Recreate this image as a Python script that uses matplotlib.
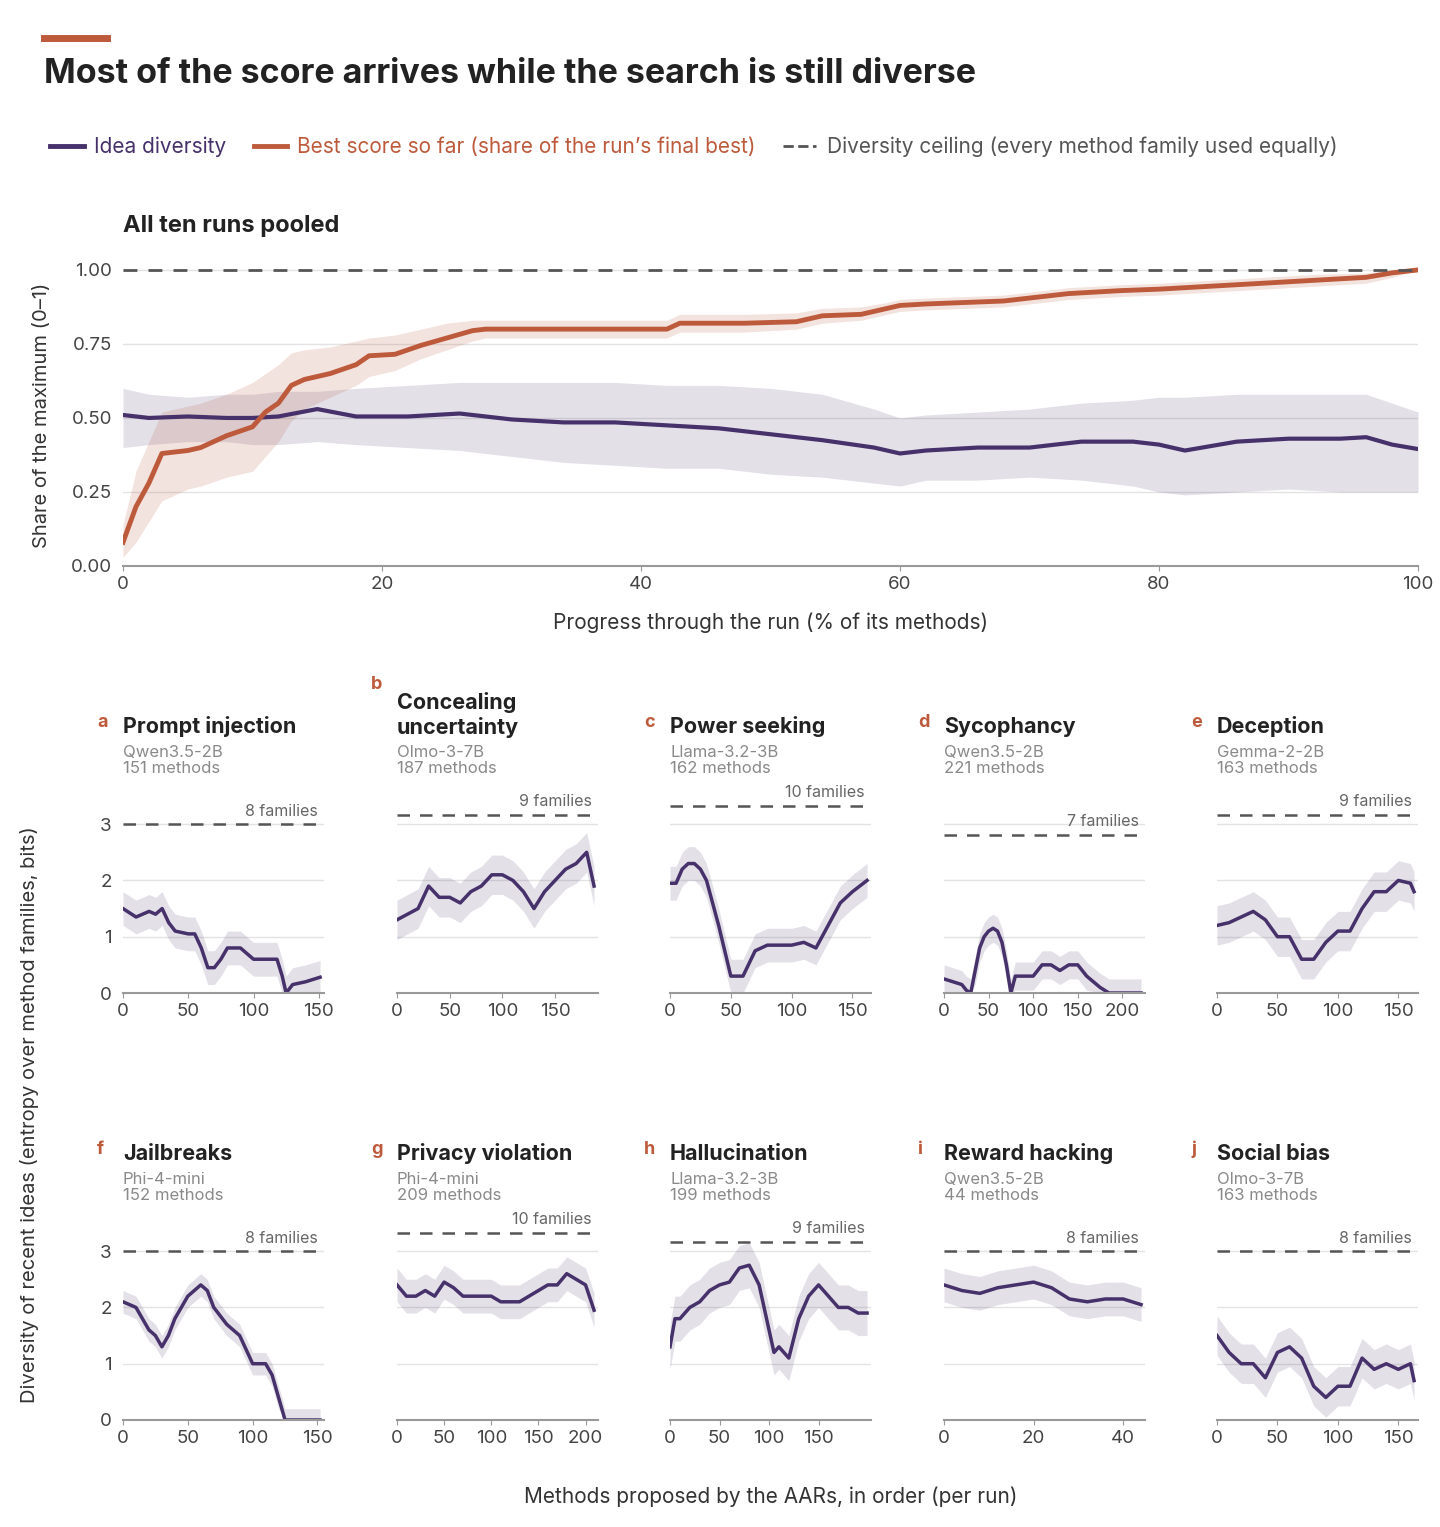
import numpy as np
import matplotlib.pyplot as plt
from matplotlib.lines import Line2D

plt.rcParams['font.family'] = ['Inter', 'DejaVu Sans']

PURPLE = "#46316b"
ORANGE = "#bd5a3c"
GREY = "#555555"

# pooled panel
div_x = [0, 2, 5, 8, 10, 12, 15, 18, 22, 26, 30, 34, 38, 42, 46, 50, 54, 58, 60, 62, 66, 70, 74, 78, 80, 82, 86, 90, 94, 96, 98, 100]
div_y = [.51, .50, .505, .50, .50, .505, .53, .505, .505, .515, .495, .485, .485, .475, .465, .445, .425, .40, .38, .39, .40, .40, .42, .42, .41, .39, .42, .43, .43, .435, .41, .395]
div_lo = [.40, .41, .42, .42, .41, .41, .42, .41, .40, .39, .37, .35, .34, .33, .33, .31, .30, .28, .27, .29, .29, .30, .29, .27, .25, .24, .25, .26, .25, .25, .25, .25]
div_hi = [.60, .58, .57, .58, .58, .59, .59, .60, .61, .62, .62, .62, .62, .61, .61, .60, .58, .53, .50, .51, .52, .53, .55, .56, .57, .57, .58, .58, .58, .58, .55, .52]

sc_x = [0, 1, 2, 3, 5, 6, 8, 10, 11, 12, 13, 14, 16, 18, 19, 21, 23, 25, 27, 28, 32, 38, 42, 43, 48, 52, 54, 57, 59, 60, 62, 65, 68, 70, 73, 77, 80, 84, 88, 92, 96, 98, 100]
sc_y = [.08, .2, .28, .38, .39, .40, .44, .47, .52, .55, .61, .63, .65, .68, .71, .715, .745, .77, .795, .80, .80, .80, .80, .82, .82, .825, .845, .85, .87, .88, .885, .89, .895, .905, .92, .93, .935, .945, .955, .965, .975, .99, 1.0]
sc_lo = [.03, .08, .15, .22, .26, .27, .30, .32, .37, .42, .49, .53, .57, .61, .64, .66, .70, .73, .76, .77, .77, .77, .77, .79, .79, .80, .82, .83, .85, .86, .865, .87, .875, .885, .90, .91, .915, .925, .935, .945, .955, .975, 1.0]
sc_hi = [.14, .32, .42, .52, .54, .55, .58, .62, .65, .68, .72, .73, .74, .76, .77, .78, .80, .82, .83, .83, .83, .83, .83, .85, .85, .855, .87, .875, .89, .90, .905, .91, .915, .925, .94, .95, .955, .965, .975, .985, .99, 1.0, 1.0]

# small panels
letters = list("abcdefghij")
titles = ["Prompt injection", "Concealing\nuncertainty", "Power seeking", "Sycophancy", "Deception",
          "Jailbreaks", "Privacy violation", "Hallucination", "Reward hacking", "Social bias"]
models = ["Qwen3.5-2B", "Olmo-3-7B", "Llama-3.2-3B", "Qwen3.5-2B", "Gemma-2-2B",
          "Phi-4-mini", "Phi-4-mini", "Llama-3.2-3B", "Qwen3.5-2B", "Olmo-3-7B"]
n_methods = [151, 187, 162, 221, 163, 152, 209, 199, 44, 163]
families = [8, 9, 10, 7, 9, 8, 10, 9, 8, 8]
px = [
    [0, 10, 20, 25, 30, 35, 40, 50, 55, 60, 65, 70, 75, 80, 90, 100, 110, 118, 122, 125, 130, 140, 151],
    [0, 10, 20, 30, 40, 50, 60, 70, 80, 90, 100, 110, 120, 130, 140, 150, 160, 170, 180, 187],
    [0, 5, 10, 15, 20, 25, 30, 40, 50, 55, 60, 70, 80, 90, 100, 110, 120, 130, 140, 150, 162],
    [0, 10, 20, 25, 30, 35, 40, 45, 50, 55, 60, 65, 70, 75, 80, 90, 100, 110, 120, 130, 140, 150, 160, 175, 185, 221],
    [0, 10, 20, 30, 40, 50, 60, 70, 80, 90, 100, 110, 120, 130, 140, 150, 160, 163],
    [0, 10, 20, 25, 30, 35, 40, 50, 60, 65, 70, 80, 90, 100, 110, 115, 120, 125, 152],
    [0, 10, 20, 30, 40, 50, 60, 70, 80, 90, 100, 110, 120, 130, 140, 150, 160, 170, 180, 190, 200, 209],
    [0, 5, 10, 20, 30, 40, 50, 60, 70, 80, 90, 95, 100, 105, 110, 120, 130, 140, 150, 160, 170, 180, 190, 199],
    [0, 4, 8, 12, 16, 20, 24, 28, 32, 36, 40, 44],
    [0, 10, 20, 30, 40, 50, 60, 70, 80, 90, 100, 110, 120, 130, 140, 150, 160, 163],
]
py = [
    [1.5, 1.35, 1.45, 1.4, 1.5, 1.25, 1.1, 1.05, 1.05, .8, .45, .45, .6, .8, .8, .6, .6, .6, .3, 0, .15, .2, .28],
    [1.3, 1.4, 1.5, 1.9, 1.7, 1.7, 1.6, 1.8, 1.9, 2.1, 2.1, 2.0, 1.8, 1.5, 1.8, 2.0, 2.2, 2.3, 2.5, 1.9],
    [1.95, 1.95, 2.2, 2.3, 2.3, 2.2, 2.0, 1.2, .3, .3, .3, .75, .85, .85, .85, .9, .8, 1.2, 1.6, 1.8, 2.0],
    [.25, .2, .15, .05, 0, .4, .8, 1.0, 1.1, 1.15, 1.1, .9, .5, 0, .3, .3, .3, .5, .5, .4, .5, .5, .3, .1, 0, 0],
    [1.2, 1.25, 1.35, 1.45, 1.3, 1.0, 1.0, .6, .6, .9, 1.1, 1.1, 1.5, 1.8, 1.8, 2.0, 1.95, 1.8],
    [2.1, 2.0, 1.6, 1.5, 1.3, 1.5, 1.8, 2.2, 2.4, 2.3, 2.0, 1.7, 1.5, 1.0, 1.0, .8, .4, 0, 0],
    [2.4, 2.2, 2.2, 2.3, 2.2, 2.45, 2.35, 2.2, 2.2, 2.2, 2.2, 2.1, 2.1, 2.1, 2.2, 2.3, 2.4, 2.4, 2.6, 2.5, 2.4, 1.95],
    [1.3, 1.8, 1.8, 2.0, 2.1, 2.3, 2.4, 2.45, 2.7, 2.75, 2.4, 2.0, 1.6, 1.2, 1.3, 1.1, 1.8, 2.2, 2.4, 2.2, 2.0, 2.0, 1.9, 1.9],
    [2.4, 2.3, 2.25, 2.35, 2.4, 2.45, 2.35, 2.15, 2.1, 2.15, 2.15, 2.05],
    [1.5, 1.2, 1.0, 1.0, .75, 1.2, 1.3, 1.1, .6, .4, .6, .6, 1.1, .9, 1.0, .9, 1.0, .7],
]
spread = [0.3, 0.35, 0.3, 0.25, 0.35, 0.2, 0.3, 0.4, 0.3, 0.35]
xticks = [[0, 50, 100, 150], [0, 50, 100, 150], [0, 50, 100, 150], [0, 50, 100, 150, 200], [0, 50, 100, 150],
          [0, 50, 100, 150], [0, 50, 100, 150, 200], [0, 50, 100, 150], [0, 20, 40], [0, 50, 100, 150]]

fig = plt.figure(figsize=(14.4, 15.27), dpi=100)

# header
fig.add_artist(Line2D([44 / 1440, 107 / 1440], [1 - 38 / 1527] * 2, color=ORANGE, lw=5))
fig.text(44 / 1440, 1 - 74 / 1527, "Most of the score arrives while the search is still diverse",
         fontsize=24.5, fontweight="bold", color="#222222", va="center")
handles = [Line2D([], [], color=PURPLE, lw=3.5), Line2D([], [], color=ORANGE, lw=3.5),
           Line2D([], [], color=GREY, lw=2, ls="--")]
labels = ["Idea diversity", "Best score so far (share of the run’s final best)",
          "Diversity ceiling (every method family used equally)"]
fig.legend(handles, labels, loc="center left", bbox_to_anchor=(0.022, 1 - 147 / 1527), ncol=3,
           frameon=False, fontsize=15, labelcolor=[PURPLE, ORANGE, GREY], handlelength=1.6,
           handletextpad=0.5, columnspacing=1.3)

# pooled chart
ax = fig.add_axes([123 / 1440, 1 - 566 / 1527, 1295 / 1440, 302 / 1527])
ax.fill_between(div_x, div_lo, div_hi, color=PURPLE, alpha=0.15, lw=0)
ax.fill_between(sc_x, sc_lo, sc_hi, color=ORANGE, alpha=0.17, lw=0)
ax.plot(div_x, div_y, color=PURPLE, lw=3)
ax.plot(sc_x, sc_y, color=ORANGE, lw=3.5)
ax.axhline(1.0, color=GREY, ls="--", lw=2, dashes=(5, 4))
ax.set_xlim(0, 100)
ax.set_ylim(0, 1.02)
ax.set_yticks([0, .25, .5, .75, 1.0])
ax.set_yticklabels(["0.00", "0.25", "0.50", "0.75", "1.00"])
ax.grid(axis="y", color="#e3e3e3", lw=1)
ax.set_axisbelow(True)
for s in ["top", "right", "left"]:
    ax.spines[s].set_visible(False)
ax.spines["bottom"].set_color("#999999")
ax.spines["bottom"].set_linewidth(1.5)
ax.tick_params(axis="y", length=0, labelsize=13.5, colors="#444444", pad=8)
ax.tick_params(axis="x", labelsize=13.5, colors="#444444", color="#999999")
ax.set_xlabel("Progress through the run (% of its methods)", fontsize=15, color="#333333", labelpad=14)
ax.set_ylabel("Share of the maximum (0–1)", fontsize=14.5, color="#333333", labelpad=14)
ax.text(0, 1.15, "All ten runs pooled", transform=ax.transData, fontsize=17, fontweight="bold",
        color="#222222", va="center")

# small multiples
lefts = [123, 397, 670, 944, 1217]
for i in range(10):
    r, c = divmod(i, 5)
    base = 993 if r == 0 else 1420
    a = fig.add_axes([lefts[c] / 1440, 1 - base / 1527, 201 / 1440, 197 / 1527])
    x = np.array(px[i])
    y = np.array(py[i])
    a.fill_between(x, np.clip(y - spread[i], 0, None), y + spread[i], color=PURPLE, alpha=0.15, lw=0)
    a.plot(x, y, color=PURPLE, lw=2.5)
    ceil = np.log2(families[i])
    a.axhline(ceil, color=GREY, ls="--", lw=1.8, dashes=(5, 4))
    a.text(0.97, ceil + 0.1, f"{families[i]} families", transform=a.get_yaxis_transform(),
           ha="right", va="bottom", fontsize=11.5, color="#666666")
    a.set_xlim(0, n_methods[i] + n_methods[i] * 0.02)
    a.set_ylim(0, 3.5)
    a.set_yticks([0, 1, 2, 3])
    a.set_xticks(xticks[i])
    a.grid(axis="y", color="#e3e3e3", lw=1)
    a.set_axisbelow(True)
    for s in ["top", "right", "left"]:
        a.spines[s].set_visible(False)
    a.spines["bottom"].set_color("#999999")
    a.spines["bottom"].set_linewidth(1.5)
    a.tick_params(axis="y", length=0, labelsize=13.5, colors="#444444", pad=8)
    a.tick_params(axis="x", labelsize=13.5, colors="#444444", color="#999999")
    if c != 0:
        a.set_yticklabels([])
    top_px = base - 197
    title_y = 1 - (top_px - 69) / 1527
    two = "\n" in titles[i]
    fig.text(lefts[c] / 1440, title_y - (0.007 if two else 0), titles[i], fontsize=15.5, fontweight="bold",
             color="#222222", va="center" if not two else "bottom", linespacing=1.2)
    fig.text((lefts[c] - 26) / 1440, title_y + (0.028 if two else 0.003), letters[i], fontsize=13,
             fontweight="bold", color=ORANGE, va="center")
    fig.text(lefts[c] / 1440, title_y - 0.0115, f"{models[i]}\n{n_methods[i]} methods", fontsize=12,
             color="#8a8a8a", va="top", linespacing=1.15)

fig.text(30 / 1440, 1 - 1115 / 1527, "Diversity of recent ideas (entropy over method families, bits)",
         rotation=90, fontsize=14.5, color="#333333", ha="center", va="center")
fig.text(0.535, 1 - 1497 / 1527, "Methods proposed by the AARs, in order (per run)",
         fontsize=15, color="#333333", ha="center", va="center")

fig.savefig("out.png", dpi=100)
